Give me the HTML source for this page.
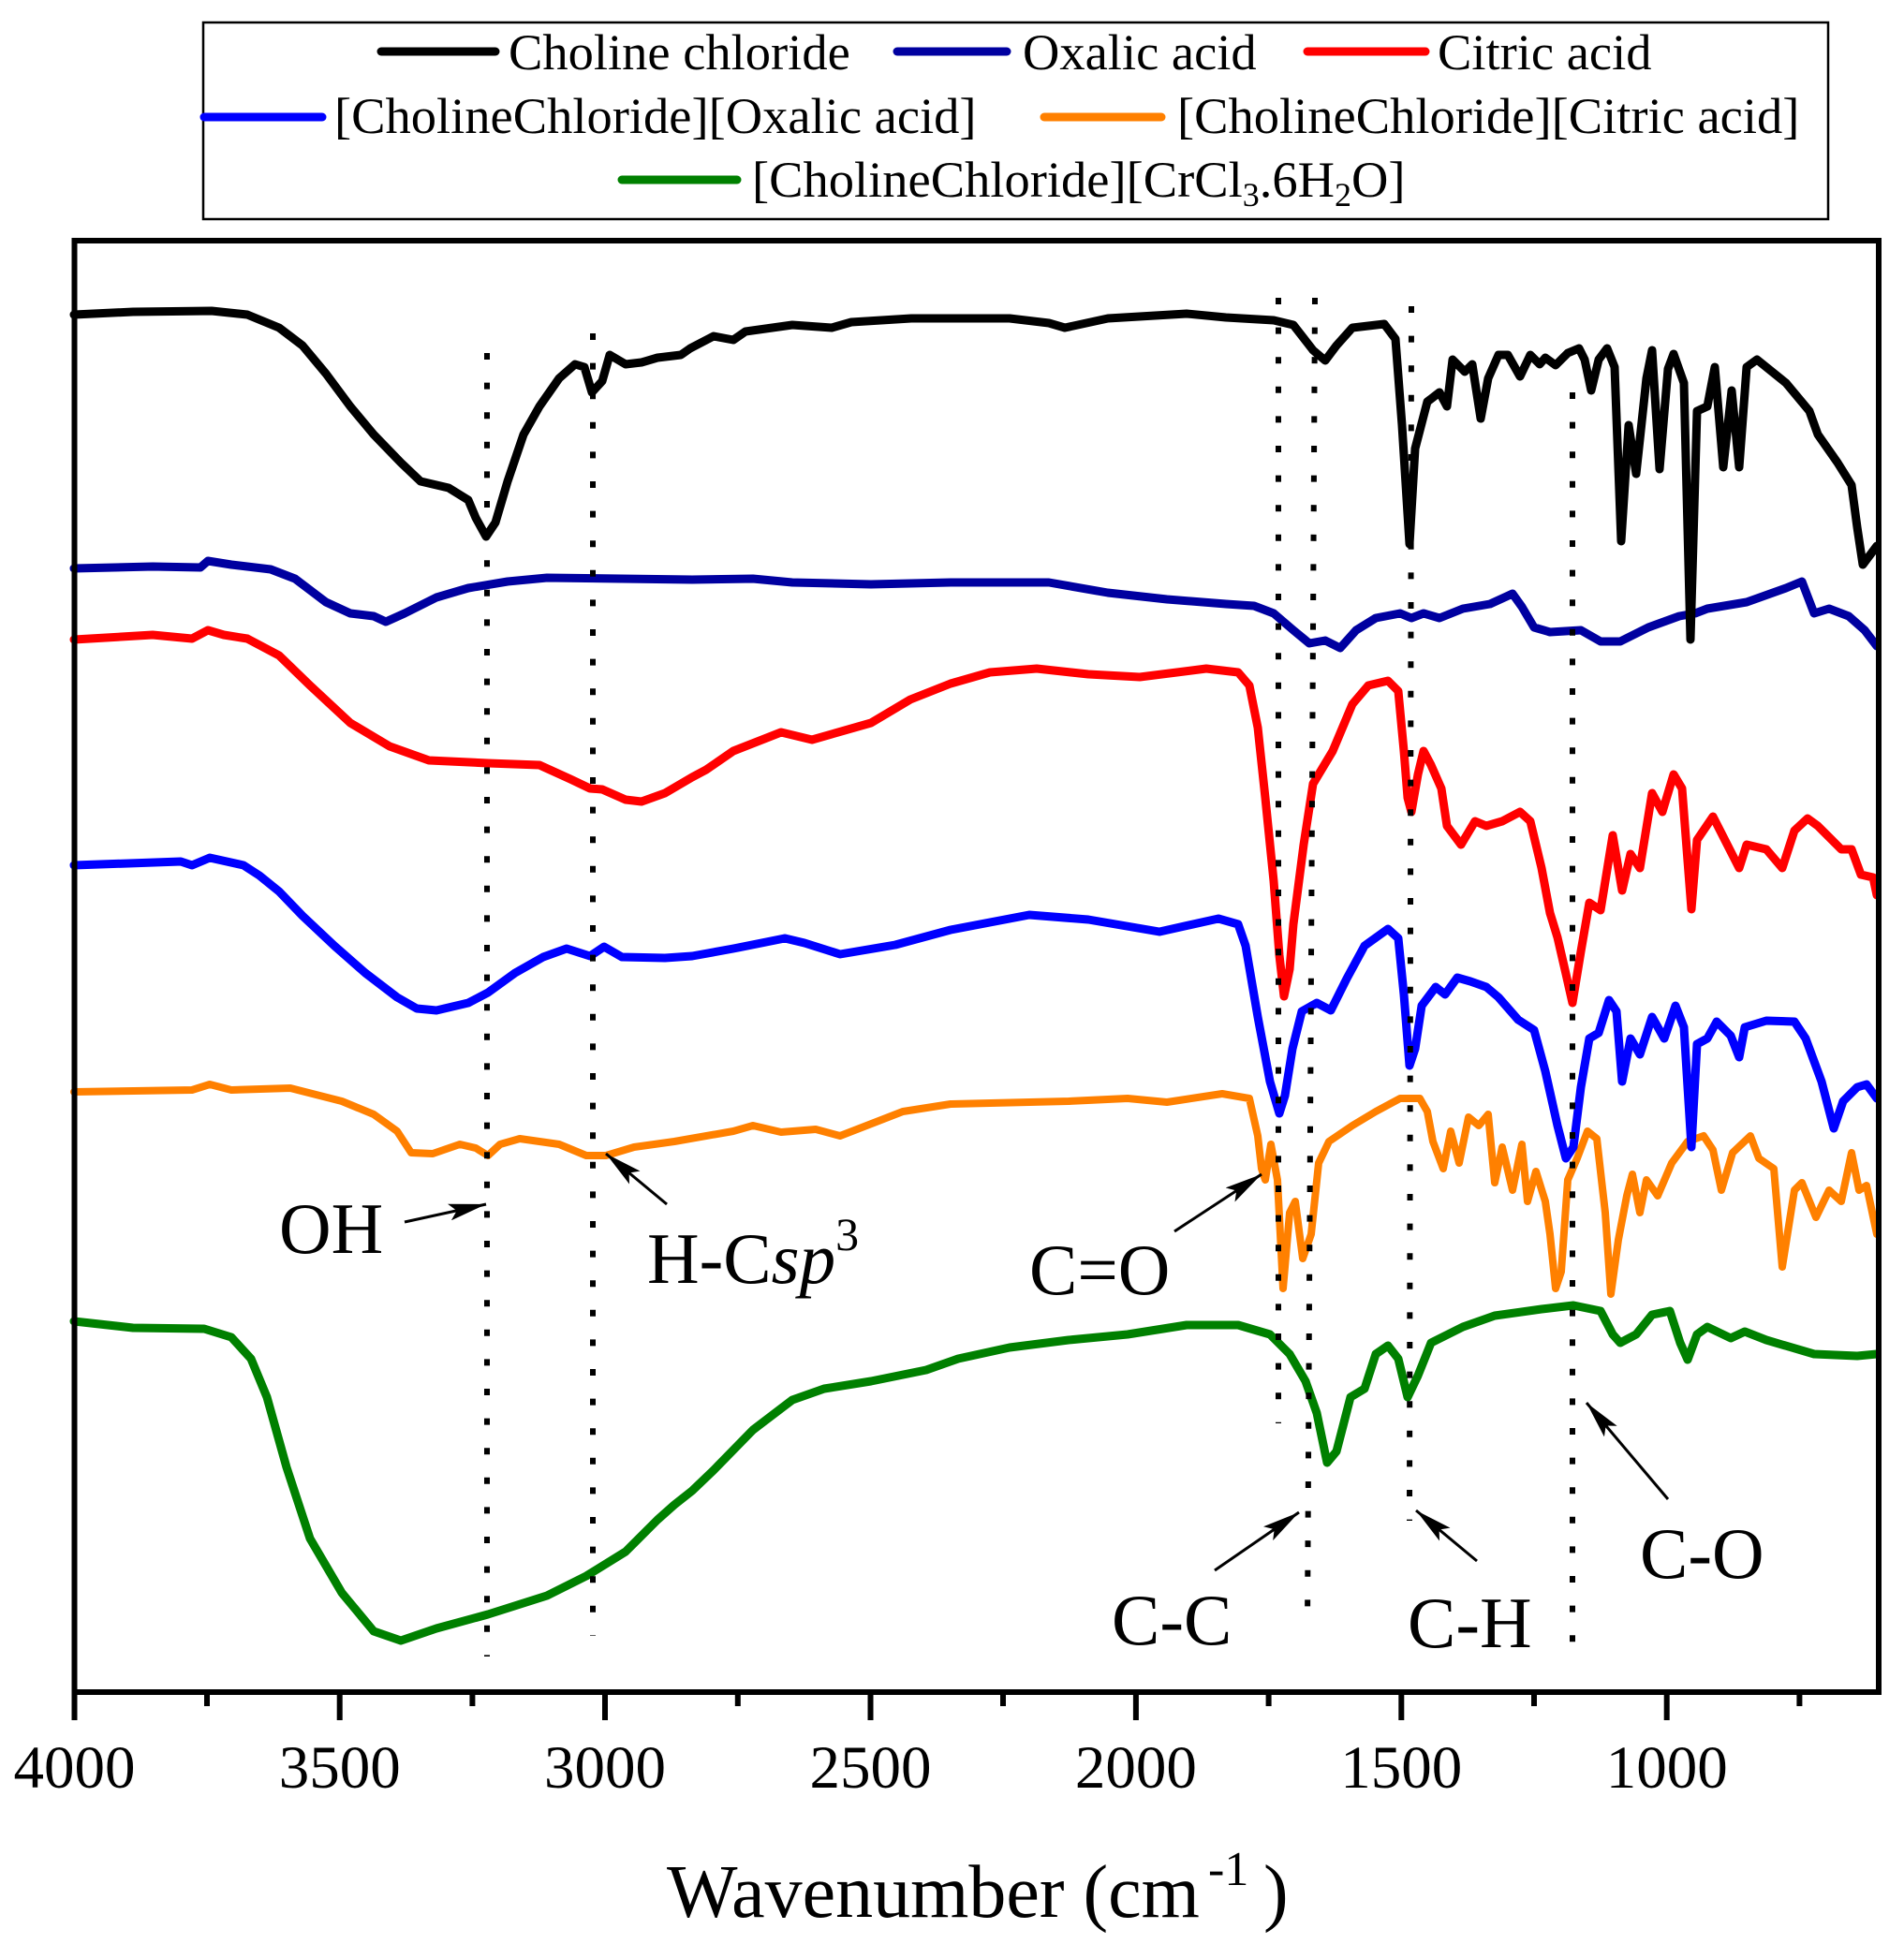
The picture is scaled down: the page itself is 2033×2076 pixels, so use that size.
<!DOCTYPE html>
<html>
<head>
<meta charset="utf-8">
<style>
html,body{margin:0;padding:0;background:#fff;}
svg{display:block;}
text{font-family:"Liberation Serif","Times New Roman",serif;fill:#000;}
</style>
</head>
<body>
<svg xmlns="http://www.w3.org/2000/svg" width="2033" height="2076" viewBox="0 0 2033 2076">
<defs>
<marker id="ah" viewBox="0 0 40 18" markerWidth="40" markerHeight="18" markerUnits="userSpaceOnUse" refX="40" refY="9" orient="auto">
<path d="M0,0 L40,9 L0,18 L8,9 z" fill="#000"/>
</marker>
</defs>
<rect x="0" y="0" width="2033" height="2076" fill="#fff"/>

<!-- Legend -->
<rect x="217" y="24" width="1735" height="210" fill="#fff" stroke="#000" stroke-width="2.5"/>
<g stroke-linecap="round" stroke-width="9" fill="none">
<line x1="407" y1="55" x2="529" y2="55" stroke="#000"/>
<line x1="958" y1="55" x2="1075" y2="55" stroke="#0000A0"/>
<line x1="1396" y1="55" x2="1522" y2="55" stroke="#FF0000"/>
<line x1="218" y1="125" x2="344" y2="125" stroke="#0000FF"/>
<line x1="1115" y1="125" x2="1240" y2="125" stroke="#FF8000"/>
<line x1="664" y1="192" x2="787" y2="192" stroke="#008000"/>
</g>
<g font-size="54.5">
<text x="543" y="74">Choline chloride</text>
<text x="1092" y="74">Oxalic acid</text>
<text x="1535" y="74">Citric acid</text>
<text x="357" y="142">[CholineChloride][Oxalic acid]</text>
<text x="1257" y="142">[CholineChloride][Citric acid]</text>
<text x="803" y="210">[CholineChloride][CrCl<tspan font-size="36" dy="10">3</tspan><tspan dy="-10">.6H</tspan><tspan font-size="36" dy="10">2</tspan><tspan dy="-10">O]</tspan></text>
</g>

<!-- Series (drawn bottom-up so black is on top) -->
<g fill="none" stroke-linejoin="round" stroke-linecap="round">
<polyline stroke="#008000" stroke-width="9" points="79,1411 142,1418 218,1419 247,1428 268,1451 285,1492 306,1567 331,1643 365,1701 399,1742 428,1752 466,1739 521,1724 584,1704 626,1683 668,1657 702,1623 720,1607 739,1592 762,1570 804,1527 846,1495 880,1483 930,1475 989,1463 1023,1451 1078,1439 1141,1431 1204,1425 1267,1415 1322,1415 1356,1425 1377,1446 1394,1475 1406,1509 1417,1562 1427,1550 1442,1492 1457,1483 1469,1446 1482,1437 1493,1451 1503,1492 1514,1469 1528,1434 1562,1417 1596,1405 1646,1398 1680,1394 1709,1400 1722,1425 1730,1434 1747,1425 1764,1404 1783,1400 1794,1434 1802,1452 1812,1425 1823,1417 1848,1429 1863,1422 1886,1431 1937,1446 1983,1448 2004,1446"/>
<polyline stroke="#FF8000" stroke-width="8" points="79,1166 205,1164 224,1158 247,1164 310,1162 365,1176 399,1190 424,1208 439,1231 462,1232 491,1222 508,1226 521,1234 534,1222 555,1216 597,1222 626,1234 647,1234 677,1225 720,1219 783,1208 804,1202 834,1209 871,1206 897,1213 964,1187 1015,1179 1141,1176 1204,1173 1246,1177 1305,1168 1334,1173 1343,1213 1347,1248 1351,1260 1357,1222 1364,1260 1370,1376 1377,1295 1383,1283 1391,1344 1400,1318 1408,1242 1419,1219 1444,1202 1469,1187 1495,1173 1516,1173 1524,1187 1530,1219 1541,1248 1549,1208 1558,1242 1568,1193 1579,1202 1589,1190 1596,1263 1604,1225 1615,1271 1625,1222 1631,1283 1640,1251 1650,1283 1655,1318 1661,1376 1667,1358 1674,1260 1684,1237 1695,1208 1705,1216 1714,1295 1720,1382 1728,1324 1737,1277 1743,1254 1751,1295 1758,1260 1770,1277 1785,1242 1802,1219 1819,1213 1829,1228 1838,1271 1850,1231 1869,1213 1878,1237 1894,1248 1903,1353 1916,1271 1924,1263 1939,1300 1953,1271 1966,1283 1977,1231 1985,1271 1993,1266 2004,1318"/>
<polyline stroke="#0000FF" stroke-width="9" points="79,924 193,920 205,924 224,916 260,924 277,935 298,952 323,978 357,1010 390,1039 424,1065 445,1077 466,1079 500,1071 521,1060 550,1039 580,1022 605,1013 630,1021 645,1011 664,1022 710,1023 739,1021 783,1013 838,1002 859,1007 897,1019 956,1009 1015,993 1099,977 1162,982 1238,995 1301,981 1322,987 1330,1010 1343,1086 1356,1155 1366,1189 1372,1170 1380,1120 1390,1080 1406,1071 1421,1079 1438,1045 1457,1010 1482,992 1493,1002 1499,1062 1505,1138 1511,1120 1518,1074 1533,1054 1543,1062 1556,1044 1570,1048 1587,1054 1600,1065 1621,1089 1638,1100 1650,1144 1663,1202 1672,1237 1680,1225 1688,1161 1697,1109 1707,1103 1718,1068 1726,1080 1732,1155 1741,1109 1751,1126 1764,1086 1777,1109 1789,1074 1798,1097 1806,1225 1812,1115 1823,1109 1833,1091 1848,1106 1857,1129 1863,1097 1886,1090 1916,1091 1928,1109 1945,1155 1958,1205 1968,1176 1983,1161 1993,1158 2004,1173"/>
<polyline stroke="#FF0000" stroke-width="9" points="79,683 163,678 205,682 222,673 239,678 264,682 298,700 331,732 374,772 416,797 458,812 521,815 576,817 609,832 630,842 643,843 668,854 685,856 710,847 739,830 754,822 783,802 834,782 867,790 930,772 972,747 1015,730 1057,718 1107,714 1162,720 1217,723 1288,714 1322,718 1334,732 1343,777 1351,852 1360,941 1366,1020 1371,1064 1377,1035 1381,987 1392,902 1402,837 1423,802 1444,752 1461,732 1482,727 1493,738 1499,802 1503,852 1507,867 1514,827 1520,802 1528,817 1539,842 1545,882 1560,902 1575,877 1587,882 1604,877 1623,867 1634,877 1646,927 1655,975 1663,1001 1672,1040 1679,1071 1688,1016 1697,964 1709,972 1722,892 1732,951 1741,912 1751,927 1764,847 1775,867 1787,827 1796,842 1806,971 1812,897 1829,872 1857,927 1865,902 1886,907 1903,927 1916,887 1930,874 1941,882 1966,907 1977,907 1987,934 2000,937 2004,956"/>
<polyline stroke="#0000A0" stroke-width="9" points="79,607 163,605 214,606 222,599 247,603 289,608 315,618 348,643 374,655 399,658 412,664 432,655 466,638 500,628 542,621 584,617 739,619 804,618 846,622 930,624 1015,622 1120,622 1183,633 1246,640 1309,645 1339,647 1360,655 1381,673 1398,687 1415,684 1431,692 1448,673 1469,660 1495,655 1507,660 1520,655 1537,660 1562,650 1591,645 1615,634 1625,648 1638,670 1655,675 1688,673 1709,685 1730,685 1760,670 1793,658 1810,655 1823,650 1865,643 1907,628 1924,621 1937,655 1953,650 1974,658 1991,673 2004,690"/>
<polyline stroke="#000000" stroke-width="9" points="79,336 142,333 226,332 264,336 298,350 323,369 348,399 374,434 399,464 428,494 449,514 479,521 500,534 508,553 519,573 529,558 542,514 559,464 576,434 597,404 614,389 624,392 632,419 643,407 651,379 668,389 685,387 702,382 727,379 737,372 762,359 783,363 796,354 846,347 888,350 909,344 973,340 1078,340 1120,345 1137,350 1183,340 1267,335 1309,339 1360,342 1381,347 1402,374 1415,385 1427,369 1444,350 1478,346 1490,362 1497,454 1505,581 1511,479 1524,429 1537,419 1545,434 1551,384 1564,397 1572,389 1581,447 1589,404 1600,379 1610,379 1623,402 1634,379 1644,389 1650,382 1661,390 1674,377 1686,372 1692,384 1699,417 1707,384 1716,372 1724,392 1731,578 1739,454 1747,506 1758,404 1764,374 1772,501 1781,394 1787,378 1798,409 1805,683 1812,439 1823,434 1831,392 1840,499 1849,417 1857,499 1865,392 1876,384 1907,409 1932,439 1941,464 1962,494 1977,518 1983,563 1989,603 2004,583"/>
</g>

<!-- Dotted guide lines -->
<g stroke="#000" stroke-width="6" stroke-dasharray="7 24.6" fill="none">
<line x1="520" y1="377" x2="520" y2="1769"/>
<line x1="633" y1="356" x2="633" y2="1747"/>
<line x1="1365" y1="318" x2="1365" y2="1520"/>
<line x1="1404" y1="318" x2="1396" y2="1740"/>
<line x1="1507" y1="327" x2="1505" y2="1624"/>
<line x1="1679" y1="419" x2="1679" y2="1776"/>
</g>

<!-- Annotation arrows -->
<g stroke="#000" stroke-width="3" fill="none" marker-end="url(#ah)">
<line x1="432" y1="1305" x2="519" y2="1286"/>
<line x1="712" y1="1286" x2="647" y2="1232"/>
<line x1="1254" y1="1315" x2="1347" y2="1254"/>
<line x1="1297" y1="1677" x2="1387" y2="1615"/>
<line x1="1577" y1="1667" x2="1512" y2="1613"/>
<line x1="1781" y1="1601" x2="1694" y2="1498"/>
</g>

<!-- Annotation text -->
<g font-size="77">
<text x="298" y="1338">OH</text>
<text x="691" y="1370">H-C<tspan font-style="italic">sp</tspan><tspan font-size="50" dy="-35">3</tspan></text>
<text x="1099" y="1382">C=O</text>
<text x="1187" y="1756">C-C</text>
<text x="1503" y="1759">C-H</text>
<text x="1751" y="1685">C-O</text>
</g>

<!-- Frame -->
<rect x="79.5" y="257" width="1926.5" height="1550" fill="none" stroke="#000" stroke-width="6"/>

<!-- Ticks -->
<g stroke="#000" stroke-width="6">
<line x1="79.5" y1="1807" x2="79.5" y2="1837"/>
<line x1="221" y1="1807" x2="221" y2="1822"/>
<line x1="362.7" y1="1807" x2="362.7" y2="1837"/>
<line x1="504.4" y1="1807" x2="504.4" y2="1822"/>
<line x1="646" y1="1807" x2="646" y2="1837"/>
<line x1="787.8" y1="1807" x2="787.8" y2="1822"/>
<line x1="929.5" y1="1807" x2="929.5" y2="1837"/>
<line x1="1071" y1="1807" x2="1071" y2="1822"/>
<line x1="1212.9" y1="1807" x2="1212.9" y2="1837"/>
<line x1="1354.6" y1="1807" x2="1354.6" y2="1822"/>
<line x1="1496.3" y1="1807" x2="1496.3" y2="1837"/>
<line x1="1638" y1="1807" x2="1638" y2="1822"/>
<line x1="1779.7" y1="1807" x2="1779.7" y2="1837"/>
<line x1="1921.4" y1="1807" x2="1921.4" y2="1822"/>
</g>

<!-- Tick labels -->
<g font-size="65" text-anchor="middle">
<text x="79.5" y="1909">4000</text>
<text x="362.7" y="1909">3500</text>
<text x="646" y="1909">3000</text>
<text x="929.5" y="1909">2500</text>
<text x="1212.9" y="1909">2000</text>
<text x="1496.3" y="1909">1500</text>
<text x="1779.7" y="1909">1000</text>
</g>

<!-- Axis title -->
<text x="712" y="2047" font-size="80">Wavenumber (cm</text>
<text x="1290" y="2013" font-size="52">-1</text>
<text x="1349" y="2047" font-size="80">)</text>
</svg>
</body>
</html>
